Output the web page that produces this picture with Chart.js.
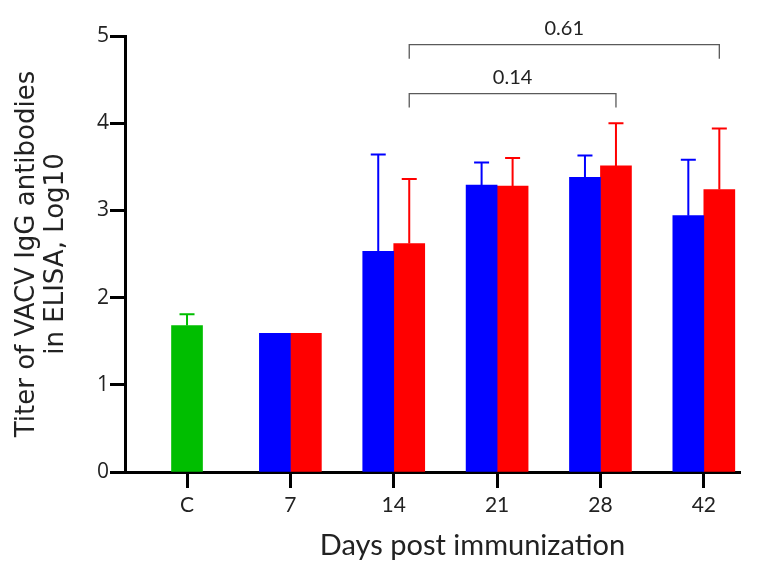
<!DOCTYPE html>
<html><head><meta charset="utf-8">
<script src="https://cdn.jsdelivr.net/npm/chart.js@4.4.1/dist/chart.umd.min.js"></script>
<style>html,body{margin:0;padding:0;background:#fff;} canvas{display:block;}</style>
</head><body>
<canvas id="c" width="775" height="566"></canvas>
<script>
// ---- data ----
const categories = ['C', '7', '14', '21', '28', '42'];
const controlMean = [1.68, null, null, null, null, null];
const controlTop  = [1.81, null, null, null, null, null];
const blueMean = [null, 1.59, 2.53, 3.29, 3.38, 2.94];
const blueTop  = [null, null, 3.64, 3.55, 3.63, 3.58];
const redMean  = [null, 1.59, 2.62, 3.28, 3.51, 3.24];
const redTop   = [null, null, 3.36, 3.60, 4.00, 3.94];
const yTicks = [0, 1, 2, 3, 4, 5];
const compFrom   = ['14', '14'];
const compTo     = ['28', '42'];
const compLabels = ['0.14', '0.61'];
const compLevels = [4.34, 4.90];
const xTitle = 'Days post immunization';

const toPoints = arr => arr.map((v, i) => ({x: i, y: v}));

const errorBars = {
  id: 'errorBars',
  afterDatasetsDraw(chart) {
    const ctx = chart.ctx;
    const ys = chart.scales.y;
    chart.data.datasets.forEach((ds, di) => {
      const meta = chart.getDatasetMeta(di);
      ds.errTop.forEach((t, i) => {
        if (t === null || ds.data[i].y === null) return;
        const bar = meta.data[i];
        const yTop = ys.getPixelForValue(t);
        ctx.save();
        ctx.strokeStyle = ds.backgroundColor;
        ctx.lineWidth = 2;
        ctx.beginPath();
        ctx.moveTo(bar.x, bar.y);
        ctx.lineTo(bar.x, yTop);
        ctx.moveTo(bar.x - 7.5, yTop);
        ctx.lineTo(bar.x + 7.5, yTop);
        ctx.stroke();
        ctx.restore();
      });
    });
  }
};

const brackets = {
  id: 'brackets',
  afterDraw(chart) {
    const ctx = chart.ctx;
    const ys = chart.scales.y;
    const redMeta = chart.getDatasetMeta(2);
    compLabels.forEach((lab, k) => {
      const x1 = redMeta.data[categories.indexOf(compFrom[k])].x;
      const x2 = redMeta.data[categories.indexOf(compTo[k])].x;
      const y = ys.getPixelForValue(compLevels[k]);
      ctx.save();
      ctx.strokeStyle = '#5a5a5a';
      ctx.lineWidth = 1.3;
      ctx.beginPath();
      ctx.moveTo(x1, y + 14);
      ctx.lineTo(x1, y);
      ctx.lineTo(x2, y);
      ctx.lineTo(x2, y + 14);
      ctx.stroke();
      ctx.fillStyle = '#222';
      ctx.font = '20px Lato';
      ctx.textAlign = 'center';
      ctx.textBaseline = 'middle';
      ctx.fillText(lab, (x1 + x2) / 2, y - 16);
      ctx.restore();
    });
    // x-axis title (placed slightly right of the axis centre, as in the original)
    const xs = chart.scales.x;
    ctx.save();
    ctx.fillStyle = '#222';
    ctx.font = '29px Lato';
    ctx.textAlign = 'center';
    ctx.textBaseline = 'middle';
    ctx.fillText(xTitle, (xs.left + xs.right) / 2 + 40, xs.bottom - 20);
    ctx.restore();
  }
};

new Chart(document.getElementById('c'), {
  type: 'bar',
  data: {
    datasets: [
      {data: toPoints(controlMean), errTop: controlTop, backgroundColor: '#00BE00'},
      {data: toPoints(blueMean), errTop: blueTop, backgroundColor: '#0000FF'},
      {data: toPoints(redMean), errTop: redTop, backgroundColor: '#FF0000'}
    ]
  },
  options: {
    responsive: false,
    animation: false,
    devicePixelRatio: 1,
    layout: {padding: {top: 36, right: 35, left: 0, bottom: 0}},
    datasets: {bar: {barThickness: 31, skipNull: true, borderWidth: 0}},
    plugins: {legend: {display: false}, tooltip: {enabled: false}},
    scales: {
      x: {
        type: 'linear',
        offset: false,
        min: -0.6,
        max: 5.35,
        afterFit(s) { s.height = 94; },
        border: {display: true, color: '#000', width: 3},
        grid: {offset: false, drawOnChartArea: false, drawTicks: true, tickLength: 16, tickWidth: 3, tickColor: '#000'},
        ticks: {
          stepSize: 1, includeBounds: false, autoSkip: false, maxRotation: 0,
          padding: 5, color: '#222', font: {family: 'Lato', size: 21},
          callback: v => categories[v] ?? ''
        },
        title: {display: false}
      },
      y: {
        min: 0, max: 5,
        afterFit(s) { s.width = 125; },
        afterBuildTicks(s) { s.ticks = yTicks.map(v => ({value: v})); },
        border: {display: true, color: '#000', width: 3},
        grid: {drawOnChartArea: false, drawTicks: true, tickLength: 15, tickWidth: 3, tickColor: '#000'},
        ticks: {padding: 1, color: '#222', font: {family: 'Open Sans', size: 21}},
        title: {display: true, text: ['Titer of VACV IgG antibodies', 'in ELISA, Log10'], color: '#222',
                font: {family: 'DejaVu Sans', size: 26, lineHeight: 1.12}, padding: {top: 13, bottom: 0}}
      }
    }
  },
  plugins: [errorBars, brackets]
});
</script>
</body></html>
